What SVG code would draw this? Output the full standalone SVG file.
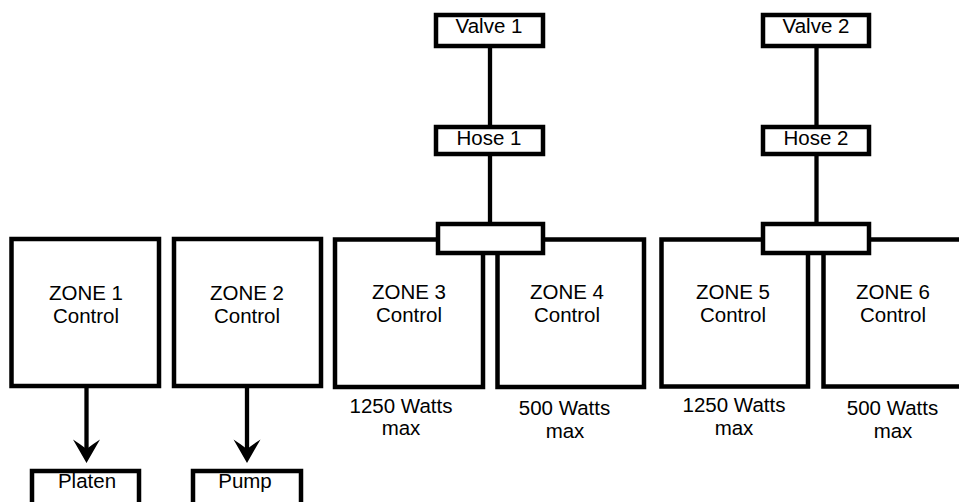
<svg xmlns="http://www.w3.org/2000/svg" width="959" height="502" viewBox="0 0 959 502">
<style>
.box{fill:#fff;stroke:#000;stroke-width:4.5}
.ln{fill:none;stroke:#000;stroke-width:4.3}
text{font-family:"Liberation Sans",Arial,sans-serif;font-size:20.5px;fill:#000;text-anchor:middle}
</style>
<defs>
<marker id="ah" markerUnits="userSpaceOnUse" viewBox="0 0 28 26" refX="14" refY="25" markerWidth="28" markerHeight="26" orient="auto-start-reverse">
<path d="M14,25 Q10,12 0,1 Q8,8 14,12 Q20,8 28,1 Q18,12 14,25 Z" fill="#000"/>
</marker>
</defs>
<rect width="959" height="502" fill="#fff"/>
<g id="connectors">
<line class="ln" x1="490" y1="46" x2="490" y2="127"/>
<line class="ln" x1="490" y1="154" x2="490" y2="224"/>
<line class="ln" x1="816.5" y1="46" x2="816.5" y2="127"/>
<line class="ln" x1="816.5" y1="154" x2="816.5" y2="224"/>
<line class="ln" x1="86.5" y1="388" x2="86.5" y2="452"/>
<path d="M86.5,463 L73,439.5 Q80,444 86.5,449 Q93,444 100,439.5 Z" fill="#000"/>
<line class="ln" x1="247" y1="388" x2="247" y2="452"/>
<path d="M247,463 L233.5,439.5 Q240.5,444 247,449 Q253.5,444 260.5,439.5 Z" fill="#000"/>
</g>
<g id="zone1"><rect class="box" x="11.5" y="239" width="147.5" height="147"/><text x="86" y="300">ZONE 1</text><text x="86" y="323">Control</text></g>
<g id="zone2"><rect class="box" x="174" y="239" width="147" height="147"/><text x="247" y="300">ZONE 2</text><text x="247" y="323">Control</text></g>
<g id="zone3"><rect class="box" x="335" y="239.5" width="148" height="147.5"/><text x="409" y="299">ZONE 3</text><text x="409" y="322">Control</text><text x="401" y="413">1250 Watts</text><text x="401" y="435">max</text></g>
<g id="zone4"><rect class="box" x="497.5" y="239.5" width="146.5" height="147.5"/><text x="567" y="299">ZONE 4</text><text x="567" y="322">Control</text><text x="564.5" y="415">500 Watts</text><text x="565" y="438">max</text></g>
<g id="zone5"><rect class="box" x="661.5" y="239.5" width="146.5" height="147"/><text x="733" y="299">ZONE 5</text><text x="733" y="322">Control</text><text x="734" y="412">1250 Watts</text><text x="734" y="435">max</text></g>
<g id="zone6"><rect class="box" x="823.5" y="239.5" width="147" height="147"/><text x="893" y="299">ZONE 6</text><text x="893" y="322">Control</text><text x="892.5" y="415">500 Watts</text><text x="893" y="438">max</text></g>
<g id="manifold1"><rect class="box" x="438" y="224" width="105" height="29"/></g>
<g id="manifold2"><rect class="box" x="763" y="224" width="106" height="29"/></g>
<g id="valve1"><rect class="box" x="436" y="15" width="107" height="31"/><text x="489" y="33">Valve 1</text></g>
<g id="hose1"><rect class="box" x="436" y="127" width="107" height="27"/><text x="489" y="145">Hose 1</text></g>
<g id="valve2"><rect class="box" x="763" y="15" width="106" height="31"/><text x="816" y="33">Valve 2</text></g>
<g id="hose2"><rect class="box" x="763" y="127" width="106" height="27"/><text x="816" y="145">Hose 2</text></g>
<g id="platen"><rect class="box" x="32" y="471" width="107" height="40"/><text x="87" y="488">Platen</text></g>
<g id="pump"><rect class="box" x="193" y="471" width="108" height="40"/><text x="245" y="488">Pump</text></g>
</svg>
